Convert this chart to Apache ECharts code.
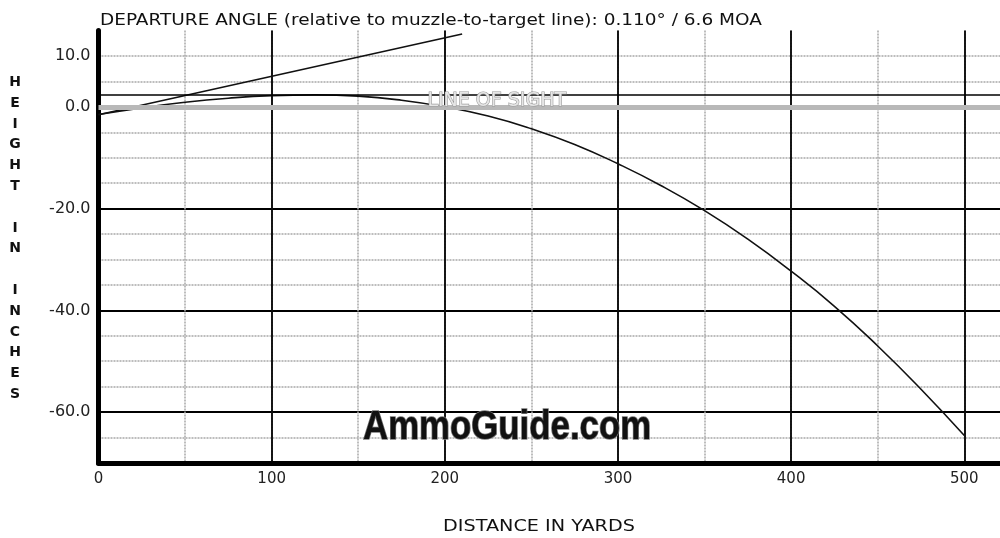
<!DOCTYPE html>
<html>
<head>
<meta charset="utf-8">
<script src="https://cdn.jsdelivr.net/npm/echarts@6/dist/echarts.min.js"></script>
<style>
  html, body { margin: 0; padding: 0; background: #fff; }
  #chart { width: 1000px; height: 538px; }
</style>
</head>
<body>
<div id="chart"></div>
<script>
// bullet path (yards / inches)
const rangeYards = [0, 25, 50, 75, 100, 125, 150, 175, 200, 225, 250, 275, 300, 325, 350, 375, 400, 425, 450, 475, 500];
const heightInches = [-1.5, -0.2, 0.9, 1.7, 2.2, 2.35, 2.1, 1.3, 0.0, -1.8, -4.3, -7.4, -11.2, -15.5, -20.4, -26.0, -32.3, -39.2, -47.0, -55.5, -64.6];

// departure angle line (bore direction)
const departureYards = [0, 210];
const departureInches = [-1.55, 14.3];

const lineOfSight = 0;
const peakHeight = 2.35;

const xTickLabels = [0, 100, 200, 300, 400, 500];
const yTickLabels = [10, 0, -20, -40, -60];

const font = "DejaVu Sans";
const chart = echarts.init(document.getElementById("chart"));

// the plot runs on past the right edge of the picture
const xMin = 0, xMax = 523.5;
const yMin = -70, yMax = 15;

const minorLine = { color: "#a8a8a8", width: 1.5, type: [2, 1] };

const option = {
  animation: false,
  backgroundColor: "#fff",
  grid: { left: 98.5, right: -5, top: 30.5, bottom: 75, outerBoundsMode: "none", containLabel: false },
  xAxis: [
    {
      // minor grid, every 50 yds
      type: "value", min: xMin, max: xMax, interval: 50, position: "bottom",
      axisLine: { show: false }, axisTick: { show: false }, axisLabel: { show: false },
      splitLine: { showMaxLine: false, lineStyle: minorLine }
    },
    {
      // major grid + labels, every 100 yds
      type: "value", min: xMin, max: xMax, interval: 100, position: "bottom",
      axisLine: { show: true, onZero: false, lineStyle: { color: "#000", width: 5 } },
      axisTick: { show: false },
      axisLabel: {
        margin: 9,
        fontFamily: font, fontSize: 15, color: "#222",
        formatter: v => (xTickLabels.includes(v) ? String(v) : "")
      },
      splitLine: { showMaxLine: false, lineStyle: { color: "#000", width: 1.8 } }
    }
  ],
  yAxis: [
    {
      // minor grid, every 5 in
      type: "value", min: yMin, max: yMax, interval: 5, position: "left",
      axisLine: { show: true, onZero: false, lineStyle: { color: "#000", width: 5 } },
      axisTick: { show: false }, axisLabel: { show: false },
      splitLine: { showMaxLine: false, lineStyle: minorLine }
    },
    {
      // major lines at -20 / -40 / -60 and labels
      type: "value", min: yMin, max: yMax, interval: 5, position: "left",
      axisLine: { show: false }, axisTick: { show: false },
      axisLabel: {
        margin: 8,
        fontFamily: font, fontSize: 16, color: "#222",
        formatter: v => (yTickLabels.includes(v) ? v.toFixed(1) : "")
      },
      splitLine: { showMaxLine: false, lineStyle: { color: ["transparent", "transparent", "#000", "transparent"], width: 1.8 } }
    }
  ],
  graphic: [
    {
      type: "text", x: 100, y: 13, scaleX: 1.155, silent: true,
      style: {
        text: "DEPARTURE ANGLE (relative to muzzle-to-target line): 0.110° / 6.6 MOA",
        font: "16px " + font, fill: "#111", align: "left", verticalAlign: "top"
      }
    },
    {
      type: "text", x: 15, y: 72, silent: true,
      style: {
        text: "H\nE\nI\nG\nH\nT\n\nI\nN\n\nI\nN\nC\nH\nE\nS",
        font: "bold 14px " + font, fill: "#111", lineHeight: 20.8,
        align: "center", verticalAlign: "top"
      }
    },
    {
      type: "text", x: 539, y: 519, scaleX: 1.2, silent: true,
      style: {
        text: "DISTANCE IN YARDS", font: "16px " + font, fill: "#111",
        align: "center", verticalAlign: "top"
      }
    },
    {
      type: "text", x: 363, y: 428, scaleX: 0.87, silent: true, z: 100,
      style: {
        text: "AmmoGuide.com",
        font: "bold 40px 'Liberation Sans'", fill: "#111",
        align: "left", verticalAlign: "middle",
        stroke: "#777", lineWidth: 1.5,
        shadowBlur: 4, shadowColor: "rgba(0,0,0,0.5)"
      }
    }
  ],
  series: [
    {
      name: "line of sight",
      type: "line",
      data: [],
      z: 1,
      markLine: {
        silent: true,
        symbol: "none",
        data: [
          {
            yAxis: lineOfSight,
            lineStyle: { color: "#b8b8b8", width: 5, type: "solid" },
            label: {
              show: true, position: "insideMiddleTop", formatter: "LINE OF SIGHT",
              offset: [-55, 9],
              fontFamily: font, fontSize: 19, color: "#e6e6e6",
              textBorderColor: "#9a9a9a", textBorderWidth: 1.2
            }
          },
          {
            yAxis: peakHeight,
            lineStyle: { color: "#000", width: 1.6, type: "solid" },
            label: { show: false }
          }
        ]
      }
    },
    {
      name: "departure angle",
      type: "line",
      z: 3,
      symbol: "none",
      lineStyle: { color: "#111", width: 1.6 },
      data: departureYards.map((x, i) => [x, departureInches[i]])
    },
    {
      name: "trajectory",
      type: "line",
      z: 4,
      smooth: true,
      symbol: "none",
      lineStyle: { color: "#111", width: 1.6 },
      data: rangeYards.map((x, i) => [x, heightInches[i]])
    }
  ]
};

chart.setOption(option);
</script>
</body>
</html>
